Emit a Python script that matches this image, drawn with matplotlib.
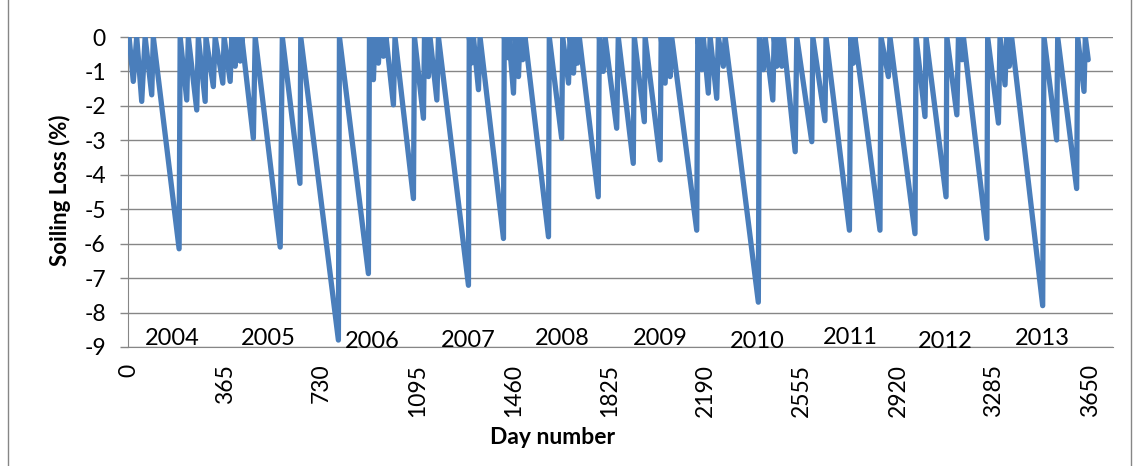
import numpy as np
import matplotlib.pyplot as plt
from matplotlib.lines import Line2D

# === DATA (vertices of the soiling-loss sawtooth) ===
day = [0, 16, 29, 48, 61, 86, 92, 190, 194, 219, 225, 257, 263, 289, 292, 320, 327,
       356, 361, 384, 390, 403, 409, 422, 428, 472, 479, 574, 582, 649, 652, 795, 799,
       909, 913, 928, 934, 947, 953, 966, 976, 1004, 1010, 1080, 1084, 1118, 1122,
       1137, 1143, 1169, 1175, 1289, 1292, 1303, 1308, 1327, 1333, 1422, 1425, 1438,
       1443, 1460, 1466, 1479, 1485, 1495, 1504, 1593, 1596, 1643, 1647, 1669, 1675,
       1688, 1694, 1703, 1710, 1782, 1786, 1801, 1808, 1852, 1858, 1915, 1919, 1957,
       1960, 2017, 2021, 2036, 2042, 2055, 2061, 2156, 2160, 2175, 2181, 2200, 2207,
       2232, 2238, 2257, 2264, 2390, 2394, 2409, 2416, 2445, 2450, 2460, 2466, 2479,
       2485, 2530, 2536, 2593, 2597, 2643, 2647, 2736, 2741, 2751, 2757, 2852, 2856,
       2884, 2890, 2985, 2989, 3023, 3027, 3103, 3106, 3144, 3150, 3163, 3169, 3258,
       3261, 3302, 3308, 3327, 3333, 3343, 3352, 3470, 3475, 3523, 3527, 3599, 3603,
       3627, 3632, 3643]
loss = [0, -1.29, 0, -1.87, 0, -1.68, 0, -6.15, 0, -1.83, 0, -2.12, 0, -1.87, 0, -1.44, 0,
        -1.34, 0, -1.29, 0, -0.85, 0, -0.70, 0, -2.94, 0, -6.10, 0, -4.25, 0, -8.80, 0,
        -6.87, 0, -1.24, 0, -0.76, 0, -0.56, 0, -1.97, 0, -4.69, 0, -2.36, 0,
        -1.15, 0, -1.83, 0, -7.21, 0, -0.75, 0, -1.53, 0, -5.85, 0, -0.60,
        0, -1.63, 0, -1.15, 0, -0.66, 0, -5.80, 0, -2.94, 0, -1.34, 0,
        -1.05, 0, -0.76, 0, -4.64, 0, -1.00, 0, -2.65, 0, -3.67, 0, -2.46,
        0, -3.57, 0, -1.34, 0, -1.15, 0, -5.61, 0, -0.95, 0, -1.63, 0,
        -1.78, 0, -0.85, 0, -7.70, 0, -0.95, 0, -1.83, 0, -0.85, 0, -0.85,
        0, -3.33, 0, -3.04, 0, -2.43, 0, -5.61, 0, -0.76, 0, -5.61, 0,
        -1.15, 0, -5.71, 0, -2.31, 0, -4.64, 0, -2.26, 0, -0.66, 0, -5.85,
        0, -2.50, 0, -1.39, 0, -0.85, 0, -7.80, 0, -2.99, 0, -4.40, 0,
        -1.58, 0, -0.66]

years = ['2004', '2005', '2006', '2007', '2008', '2009', '2010', '2011', '2012', '2013']
year_day = [163, 528, 923, 1287, 1644, 2017, 2385, 2738, 3099, 3467]
year_y = [-8.74, -8.74, -8.83, -8.80, -8.74, -8.74, -8.83, -8.72, -8.83, -8.74]

xticks = [0, 365, 730, 1095, 1460, 1825, 2190, 2555, 2920, 3285, 3650]

plt.rcParams['font.family'] = ['Lato', 'DejaVu Sans']
plt.rcParams['axes.unicode_minus'] = False

fig = plt.figure(figsize=(11.35, 4.66), dpi=100)
ax = fig.add_axes([0.1128, 0.2554, 0.8678, 0.6652])

ax.plot(day, loss, color='#4a7ebb', lw=3.8, solid_joinstyle='round', solid_capstyle='round', zorder=3)

for t, xd, yv in zip(years, year_day, year_y):
    ax.text(xd, yv, t, ha='center', va='center', fontsize=17, zorder=4)

ax.set_xlim(-4, 3737)
ax.set_ylim(-9, 0)
ax.set_yticks(range(-9, 1))
ax.set_xticks(xticks)
ax.set_xticklabels([str(v) for v in xticks], rotation=90)
ax.tick_params(axis='y', length=6, width=1, color='#868686', labelsize=16.5, pad=10)
ax.tick_params(axis='x', length=0, labelsize=16.5, pad=12)
ax.grid(axis='y', color='#868686', lw=1)
ax.set_axisbelow(True)
for s in ['top', 'right']:
    ax.spines[s].set_visible(False)
ax.spines['left'].set_color('#868686')
ax.spines['bottom'].set_color('#868686')

fig.text(60/1135, 1 - 190/466, 'Soiling Loss (%)', rotation=90, ha='center', va='center',
         fontsize=16, fontweight='bold')
fig.text(553/1135, 1 - 437/466, 'Day number', ha='center', va='center',
         fontsize=16.5, fontweight='bold')

# outer chart border
fig.add_artist(Line2D([8/1135, 8/1135], [0, 1], color='#868686', lw=1))
fig.add_artist(Line2D([1131/1135, 1131/1135], [0, 1], color='#868686', lw=1))

fig.savefig('out.png', dpi=100)
